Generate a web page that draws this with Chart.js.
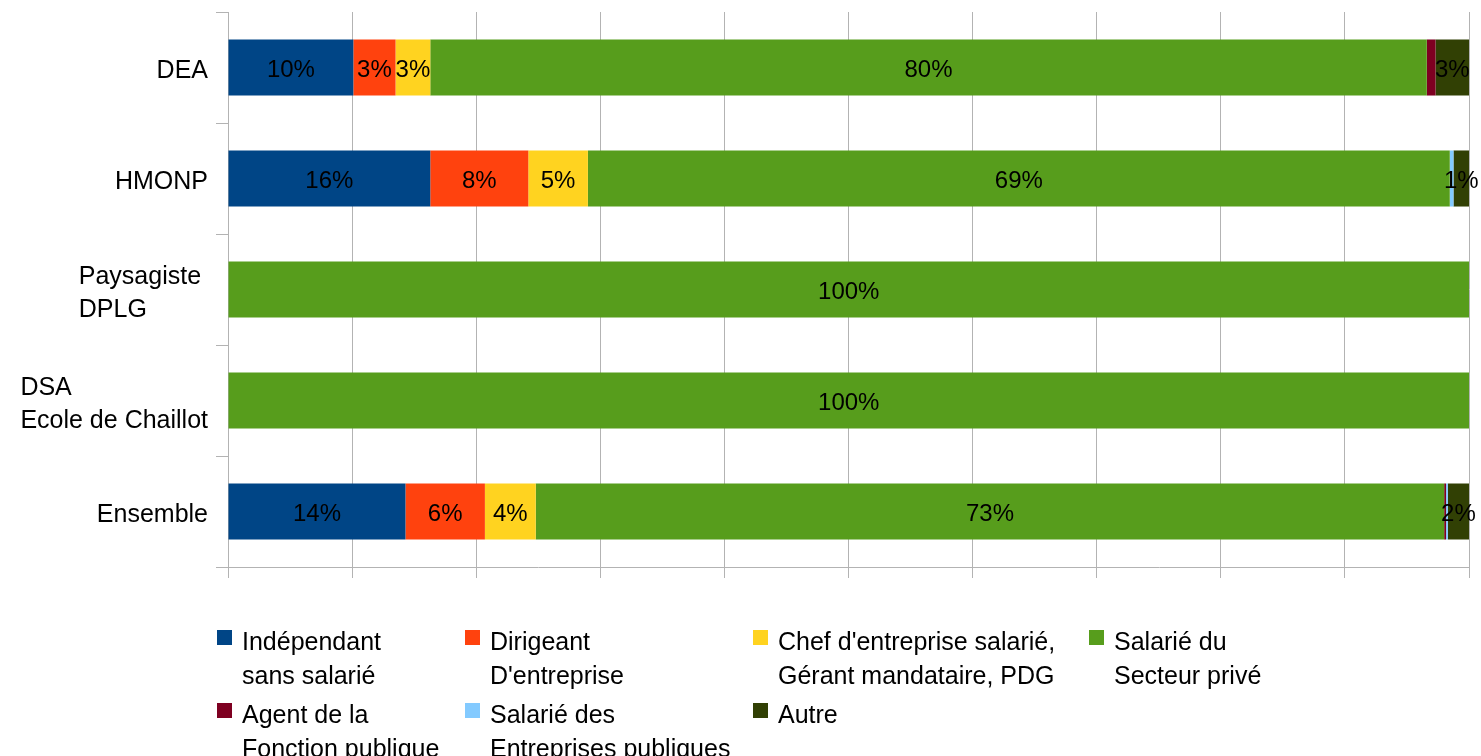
<!DOCTYPE html>
<html>
<head>
<meta charset="utf-8">
<script src="https://cdn.jsdelivr.net/npm/chart.js@4/dist/chart.umd.min.js"></script>
<style>
  html, body { margin: 0; padding: 0; background: #fff; }
  #wrap { position: relative; width: 1481px; height: 756px; overflow: hidden; }
  #chart { position: absolute; left: 0; top: 0; }
  .leg { position: absolute; font: 25px "Liberation Sans", Arial, sans-serif; line-height: 34px; color: #000; white-space: nowrap; }
  .leg i { position: absolute; left: -25px; top: 6px; width: 15px; height: 15px; }
</style>
</head>
<body>
<div id="wrap">
  <canvas id="chart" width="1481" height="756"></canvas>
  <div id="legend"></div>
</div>
<script>
// categories (multi-line labels as arrays)
const categories = [['DEA'], ['HMONP'], ['Paysagiste ', 'DPLG'], ['DSA', 'Ecole de Chaillot'], ['Ensemble']];

// series names (legend, two lines each)
const seriesNames = [
  ['Indépendant', 'sans salarié'],
  ['Dirigeant', "D'entreprise"],
  ["Chef d'entreprise salarié,", 'Gérant mandataire, PDG'],
  ['Salarié du', 'Secteur privé'],
  ['Agent de la', 'Fonction publique'],
  ['Salarié des', 'Entreprises publiques'],
  ['Autre']
];

// values in % per category
const independant    = [10.1, 16.3, 0, 0, 14.3];
const dirigeant      = [3.4, 7.9, 0, 0, 6.4];
const chefEntreprise = [2.8, 4.8, 0, 0, 4.1];
const salariePrive   = [80.3, 69.45, 100, 100, 73.2];
const agentPublic    = [0.7, 0, 0, 0, 0.15];
const salariePublic  = [0, 0.3, 0, 0, 0.15];
const autre          = [2.7, 1.25, 0, 0, 1.7];

const seriesValues = [independant, dirigeant, chefEntreprise, salariePrive, agentPublic, salariePublic, autre];
const colors = ['#004586', '#ff420e', '#ffd320', '#579d1c', '#7e0021', '#83caff', '#314004'];

const FONT = '"Liberation Sans", Arial, sans-serif';
const gridColor = '#b3b3b3';

// value labels centred in each segment
const segmentLabels = {
  id: 'segmentLabels',
  afterDatasetsDraw(chart) {
    const ctx = chart.ctx;
    ctx.save();
    ctx.font = '24px ' + FONT;
    ctx.fillStyle = '#000';
    ctx.textAlign = 'center';
    ctx.textBaseline = 'middle';
    chart.data.datasets.forEach((ds, i) => {
      const meta = chart.getDatasetMeta(i);
      meta.data.forEach((bar, j) => {
        const v = ds.data[j];
        if (v < 1) return;
        const p = bar.getProps(['x', 'y', 'base'], true);
        ctx.fillText(Math.round(v) + '%', (p.x + p.base) / 2, p.y + 3);
      });
    });
    ctx.restore();
  }
};

// category labels: block right-aligned, lines left-aligned
const categoryLabels = {
  id: 'categoryLabels',
  afterDraw(chart) {
    const ctx = chart.ctx;
    const yScale = chart.scales.y;
    ctx.save();
    ctx.font = '25px ' + FONT;
    ctx.fillStyle = '#000';
    ctx.textAlign = 'left';
    ctx.textBaseline = 'middle';
    categories.forEach((lines, i) => {
      const cy = yScale.getPixelForValue(i);
      const w = Math.max(...lines.map(l => ctx.measureText(l).width));
      const x0 = 208 - w;
      lines.forEach((l, k) => {
        ctx.fillText(l, x0, cy + 4 + (k - (lines.length - 1) / 2) * 33);
      });
    });
    ctx.restore();
  }
};

new Chart(document.getElementById('chart'), {
  type: 'bar',
  data: {
    labels: categories.map(c => c.join(' ')),
    datasets: seriesValues.map((vals, i) => ({
      label: seriesNames[i].join(' '),
      data: vals,
      backgroundColor: colors[i],
      borderWidth: 0,
      barPercentage: 1,
      categoryPercentage: 0.505
    }))
  },
  options: {
    indexAxis: 'y',
    responsive: false,
    animation: false,
    layout: { padding: { top: 12, right: 12, left: 0, bottom: 0 } },
    scales: {
      x: {
        stacked: true,
        min: 0,
        max: 100,
        ticks: { display: false, stepSize: 10 },
        grid: { color: gridColor, tickLength: 11, drawTicks: true },
        border: { color: gridColor },
        afterFit(s) { s.height = 189; }
      },
      y: {
        stacked: true,
        ticks: { display: false },
        grid: { color: gridColor, offset: true, drawOnChartArea: false, tickLength: 12 },
        border: { color: gridColor },
        afterFit(s) { s.width = 228; }
      }
    },
    plugins: {
      legend: { display: false },
      tooltip: { enabled: false }
    }
  },
  plugins: [segmentLabels, categoryLabels]
});

// legend below the plot
const legendCols = [217, 465, 753, 1089];
const legendRows = [624, 697];
const legend = document.getElementById('legend');
seriesNames.forEach((name, i) => {
  const el = document.createElement('div');
  el.className = 'leg';
  el.style.left = (legendCols[i % 4] + 25) + 'px';
  el.style.top = legendRows[Math.floor(i / 4)] + 'px';
  el.innerHTML = '<i style="background:' + colors[i] + '"></i>' + name.join('<br>');
  legend.appendChild(el);
});
</script>
</body>
</html>
